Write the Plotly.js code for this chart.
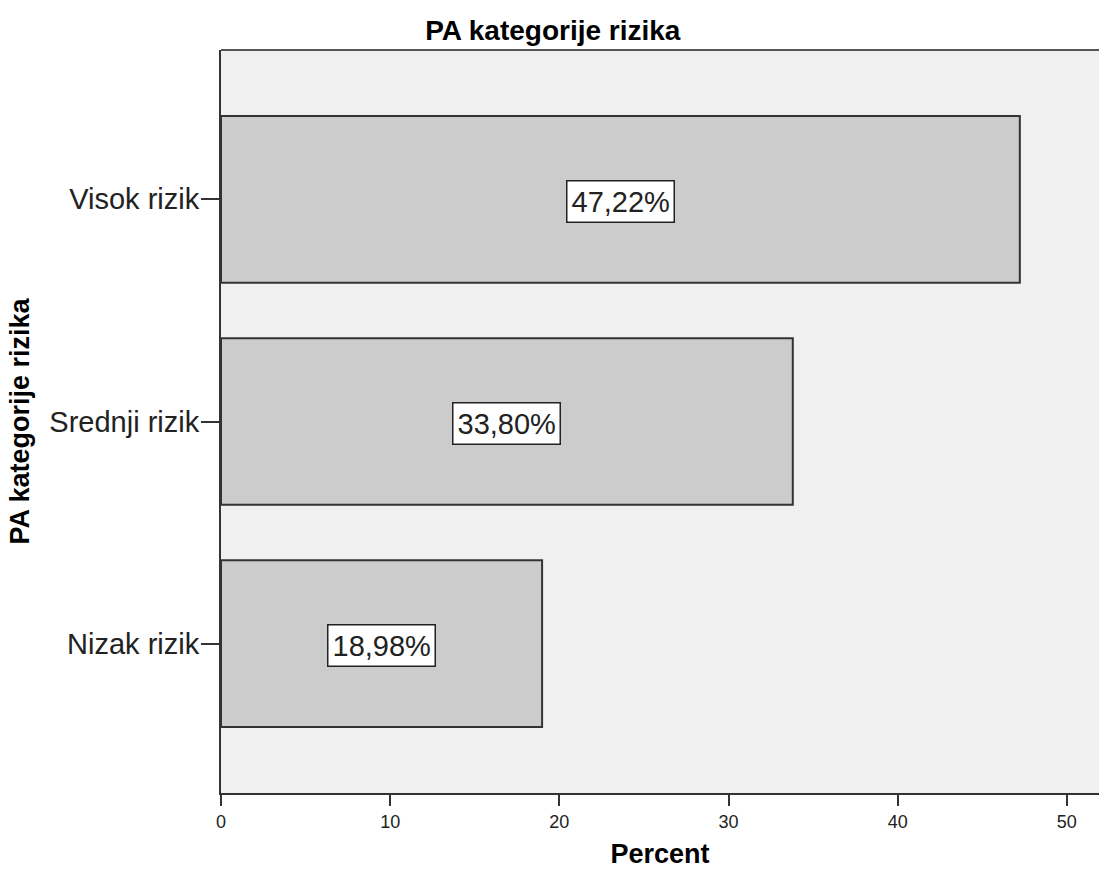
<!DOCTYPE html>
<html>
<head>
<meta charset="utf-8">
<script src="https://cdn.plot.ly/plotly-3.0.1.min.js"></script>
<style>html,body{margin:0;padding:0;background:#fff;}#chart{width:1099px;height:872px;}</style>
</head>
<body>
<div id="chart"></div>
<script>
const categories = ["Nizak rizik", "Srednji rizik", "Visok rizik"];
const percents = [18.98, 33.80, 47.22];
const xTicks = [0, 10, 20, 30, 40, 50];
const chartTitle = "PA kategorije rizika";
const xTitle = "Percent";
const yTitle = "PA kategorije rizika";

const FONT = "Liberation Sans, Arial, sans-serif";
const labels = percents.map(v => v.toFixed(2).replace('.', ',') + '%');

const trace = {
  type: 'bar',
  orientation: 'h',
  y: categories,
  x: percents,
  width: 0.75,
  marker: {color: '#cccccc', line: {color: '#333333', width: 2}},
  hoverinfo: 'none'
};

const annotations = categories.map((c, i) => ({
  x: percents[i] / 2, y: c, xref: 'x', yref: 'y', yshift: -2,
  text: labels[i], showarrow: false,
  font: {family: FONT, size: 29, color: '#222'},
  bgcolor: '#ffffff', bordercolor: '#222', borderwidth: 1.5, borderpad: 4
}));

const layout = {
  width: 1099, height: 872,
  paper_bgcolor: '#ffffff', plot_bgcolor: '#f0f0f0',
  margin: {l: 221, r: 0, t: 50, b: 79},
  showlegend: false,
  title: {text: chartTitle, font: {family: FONT, size: 28, color: '#000', weight: 'bold'},
          x: 0.503, xref: 'container', y: 1 - 30 / 872, yref: 'container', yanchor: 'middle', xanchor: 'center'},
  xaxis: {
    range: [0, 51.9], tickvals: xTicks, ticktext: xTicks.map(String),
    showgrid: false, zeroline: false,
    showline: true, linecolor: '#333', linewidth: 2,
    ticks: 'outside', ticklen: 11, tickwidth: 2, tickcolor: '#333',
    tickfont: {family: FONT, size: 18, color: '#222'},
    title: {text: xTitle, font: {family: FONT, size: 27, color: '#000', weight: 'bold'}, standoff: 14}
  },
  yaxis: {
    type: 'category', categoryarray: categories, range: [-0.672, 2.672],
    showgrid: false, zeroline: false,
    showline: true, linecolor: '#333', linewidth: 2,
    ticks: 'outside', ticklen: 18, tickwidth: 2, tickcolor: '#333', ticklabelstandoff: -4,
    tickfont: {family: FONT, size: 29, color: '#222'},
    title: {text: yTitle, font: {family: FONT, size: 27, color: '#000', weight: 'bold'}, standoff: 12}
  },
  annotations: annotations,
  shapes: [{type: 'line', xref: 'paper', yref: 'paper', x0: 0, x1: 1, y0: 1, y1: 1, line: {color: '#555', width: 2}}]
};

Plotly.newPlot('chart', [trace], layout, {displayModeBar: false, staticPlot: true});
</script>
</body>
</html>
